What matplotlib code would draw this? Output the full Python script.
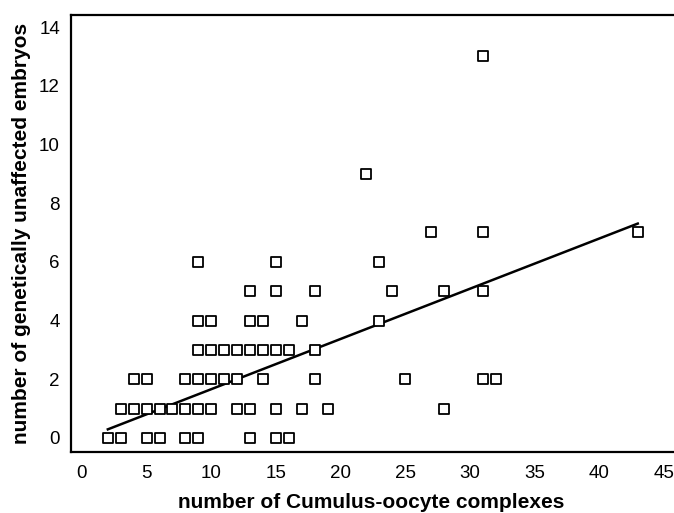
import matplotlib
matplotlib.use('Agg')
import matplotlib.pyplot as plt
import numpy as np

plt.rcParams['font.family'] = ['Liberation Sans', 'DejaVu Sans']

# number of Cumulus-oocyte complexes per patient
coc = [2, 3, 5, 6, 8, 9, 13, 15, 16,
       3, 4, 5, 6, 7, 8, 9, 10, 12, 13, 15, 17, 19, 28,
       4, 5, 8, 9, 10, 11, 12, 14, 18, 25, 31, 32,
       9, 10, 11, 12, 13, 14, 15, 16, 18,
       9, 10, 13, 14, 17, 23,
       13, 15, 18, 24, 28, 31,
       9, 15, 23,
       27, 31, 43,
       22,
       31]
# number of genetically unaffected embryos
embryos = [0] * 9 + [1] * 14 + [2] * 12 + [3] * 9 + [4] * 6 + [5] * 6 + \
          [6] * 3 + [7] * 3 + [9] + [13]

# regression line as printed in the figure
slope = 0.171
intercept = -0.05

x_ticks = [0, 5, 10, 15, 20, 25, 30, 35, 40, 45]
y_ticks = [0, 2, 4, 6, 8, 10, 12, 14]

fig = plt.figure(figsize=(6.74, 5.13), dpi=100)
ax = fig.add_axes([71 / 674, 61 / 513, 612 / 674, 437 / 513])

ax.scatter(coc, embryos, marker='s', s=42, facecolors='white',
           edgecolors='black', linewidths=1.3, zorder=3)

xs = np.array([min(coc), max(coc)])
ax.plot(xs, intercept + slope * xs, color='black', linewidth=1.8, zorder=2)

ax.set_xlim(-0.85, 46.5)
ax.set_ylim(-0.48, 14.41)
ax.set_xticks(x_ticks)
ax.set_yticks(y_ticks)
ax.tick_params(length=0, labelsize=13.5)
ax.tick_params(axis='x', pad=9)
ax.tick_params(axis='y', pad=8)

for side in ['left', 'bottom', 'top']:
    ax.spines[side].set_linewidth(1.6)
ax.spines['right'].set_visible(False)

ax.set_xlabel('number of Cumulus-oocyte complexes', fontsize=15,
              fontweight='bold', labelpad=8)
ax.xaxis.label.set_x(0.49)
ax.set_ylabel('number of genetically unaffected embryos', fontsize=15,
              fontweight='bold', labelpad=6)

fig.savefig('out.png', dpi=100)
